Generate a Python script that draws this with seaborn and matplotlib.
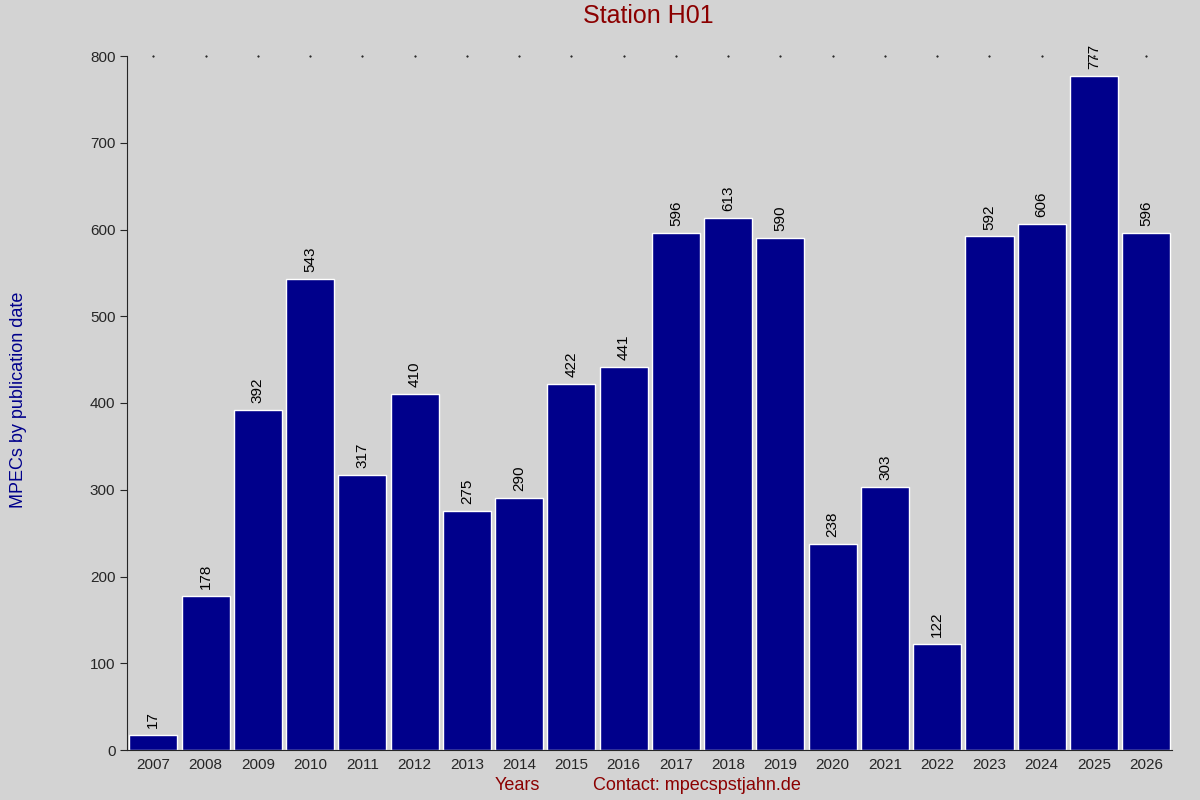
import matplotlib
matplotlib.use("Agg")
import matplotlib.pyplot as plt
import seaborn as sns
import pandas as pd

years = [str(y) for y in range(2007, 2027)]
counts = [17, 178, 392, 543, 317, 410, 275, 290, 422, 441, 596, 613, 590, 238, 303, 122, 592, 606, 777, 596]

sns.set_style("ticks")
plt.rcParams['font.family'] = ['Liberation Sans', 'DejaVu Sans']
df = pd.DataFrame({"year": years, "count": counts})

fig = plt.figure(figsize=(12, 8), dpi=100, facecolor="#d3d3d3")
ax = fig.add_axes([0.106, 0.0625, 0.871, 0.8675])
ax.set_facecolor("#d3d3d3")
sns.barplot(data=df, x="year", y="count", color="#00008b", saturation=1, width=0.92, ax=ax)
for i, v in enumerate(counts):
    ax.text(i, v + 8, str(v), rotation=90, ha="center", va="bottom", fontsize=11, color="black")
ax.set_xlim(-0.5, len(years) - 0.5)
ax.set_ylim(0, 800)
ax.set_yticks(range(0, 801, 100))
for s in ["top", "right"]:
    ax.spines[s].set_visible(False)
ax.tick_params(axis="y", length=5, labelsize=11)
ax.tick_params(axis="x", length=0, labelsize=11, pad=6)
ax.set_xlabel("")
ax.set_ylabel("")
for i in range(len(years)):
    ax.plot(i, 800, marker=".", markersize=1, color="black", clip_on=False)
fig.text(0.54, 0.98, "Station H01", ha="center", va="center", fontsize=18, color="#8b0000")
fig.text(0.008, 0.5, "MPECs by publication date", rotation=90, ha="left", va="center", fontsize=13, color="#00008b")
fig.text(0.431, 0.018, "Years", ha="center", va="center", fontsize=13, color="#8b0000")
fig.text(0.581, 0.018, "Contact: mpecspstjahn.de", ha="center", va="center", fontsize=13, color="#8b0000")
fig.savefig("out.png", dpi=100, facecolor=fig.get_facecolor())
